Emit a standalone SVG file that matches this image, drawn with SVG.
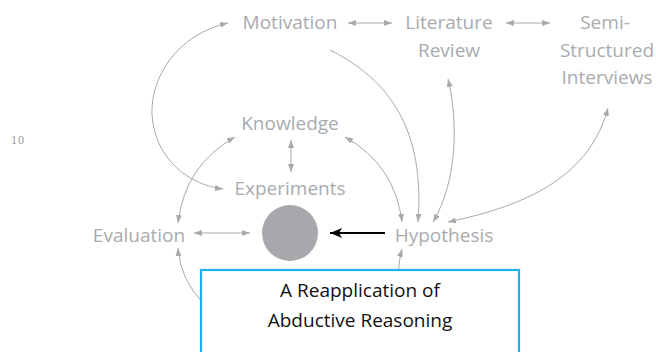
<svg xmlns="http://www.w3.org/2000/svg" width="656" height="352" viewBox="0 0 656 352">
<defs>
<style>
.lbl{font-family:"Open Sans","Liberation Sans",sans-serif;font-size:19px;fill:#a9abae;text-anchor:middle}
.box{font-family:"Open Sans","Liberation Sans",sans-serif;font-size:19px;fill:#111;text-anchor:middle}
.ca{fill:none;stroke:#a7a9ac;stroke-width:1;marker-end:url(#ah)}
.cd{fill:none;stroke:#a7a9ac;stroke-width:1;marker-start:url(#ah);marker-end:url(#ah)}
</style>
<marker id="ah" viewBox="0 0 8 6" refX="8" refY="3" markerWidth="8" markerHeight="6" markerUnits="userSpaceOnUse" orient="auto-start-reverse">
<path d="M0,0 L8,3 L0,6 z" fill="#a7a9ac"/>
</marker>
<marker id="bh" viewBox="0 0 12 10" refX="12" refY="5" markerWidth="12" markerHeight="10" markerUnits="userSpaceOnUse" orient="auto">
<path d="M0,0 L12,5 L0,10 L3,5 z" fill="#000"/>
</marker>
</defs>
<rect width="656" height="352" fill="#fff"/>
<text x="11" y="144" style="font-family:'Liberation Serif',serif;font-size:12px;fill:#999;letter-spacing:1px">10</text>
<g id="connectors">
<path class="cd" d="M348,23 L392,23"/>
<path class="cd" d="M506,23 L550,23"/>
<path class="cd" d="M228,23 C175,35 150,80 152,115 C155,160 190,185 223,189"/>
<path class="cd" d="M235,137 Q185,165 178,223"/>
<path class="cd" d="M291,140 L291,172"/>
<path class="cd" d="M345,137 Q395,165 402,222"/>
<path class="ca" d="M330,50 C390,80 425,130 418,222"/>
<path class="cd" d="M448,79 C458,120 458,180 433,222"/>
<path class="cd" d="M608,108 C590,175 530,205 448,222"/>
<path class="cd" d="M194,233 L250,233"/>
<path class="ca" d="M205,305 Q180,280 178,248"/>
<path class="ca" d="M398,275 Q399,260 402,249"/>
<path d="M385,233 L330,233" fill="none" stroke="#000" stroke-width="2.2" marker-end="url(#bh)"/>
</g>
<g id="motivation"><text class="lbl" x="290" y="29">Motivation</text></g>
<g id="literature"><text class="lbl" x="449" y="29">Literature</text><text class="lbl" x="449" y="57">Review</text></g>
<g id="interviews"><text class="lbl" x="605" y="29">Semi-</text><text class="lbl" x="607" y="57">Structured</text><text class="lbl" x="607" y="84">Interviews</text></g>
<g id="knowledge"><text class="lbl" x="290" y="130">Knowledge</text></g>
<g id="experiments"><text class="lbl" x="290" y="195">Experiments</text></g>
<g id="evaluation"><text class="lbl" x="139" y="242">Evaluation</text></g>
<g id="hypothesis"><text class="lbl" x="444" y="242">Hypothesis</text></g>
<g id="circle"><circle cx="290" cy="233" r="28" fill="#a7a8ab"/></g>
<g id="abduction">
<rect x="201" y="270" width="318" height="100" fill="#fff" stroke="#1cb1ec" stroke-width="2.2"/>
<text class="box" x="360" y="297">A Reapplication of</text>
<text class="box" x="360" y="327">Abductive Reasoning</text>
</g>
</svg>
